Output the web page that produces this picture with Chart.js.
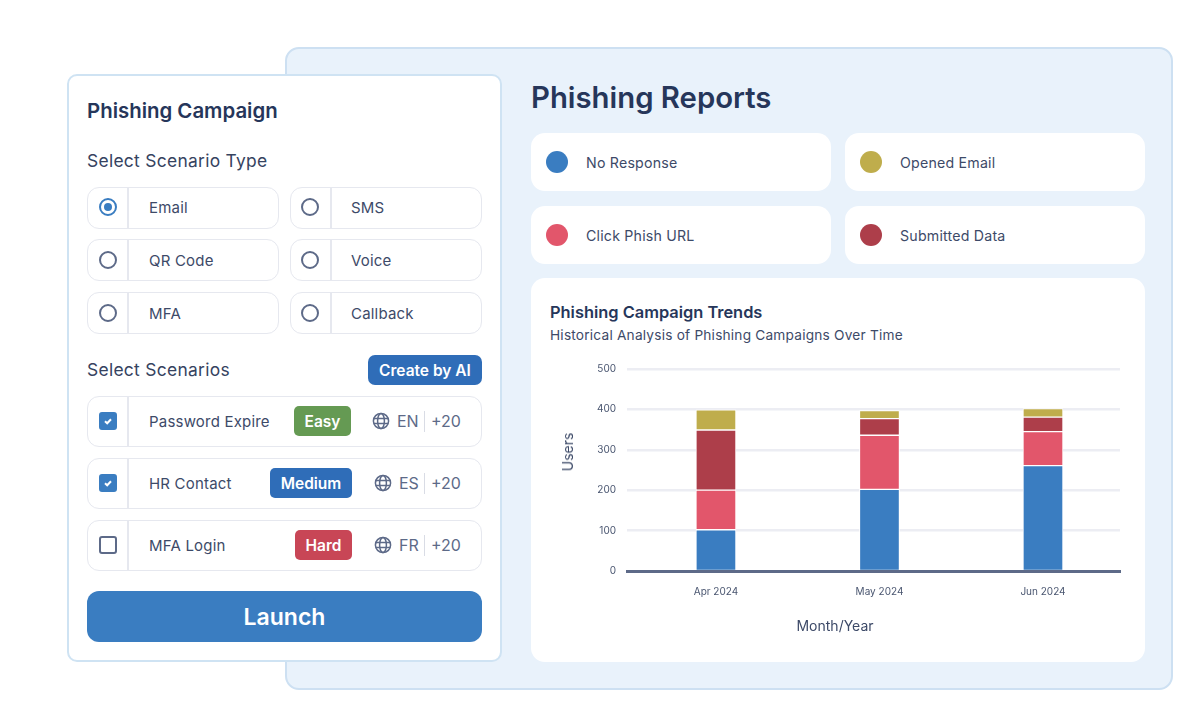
<!DOCTYPE html>
<html>
<head>
<meta charset="utf-8">
<title>Phishing Reports</title>
<script src="https://cdn.jsdelivr.net/npm/chart.js@4"></script>
<style>
  html, body { margin: 0; background: #fff; }
  body { width: 1200px; height: 709px; position: relative; overflow: hidden; font-family: Inter, "Noto Sans", sans-serif; color: #2b3a5a; }
  .box { position: absolute; box-sizing: border-box; }
  .t { position: absolute; white-space: nowrap; transform: translateY(-50%); line-height: 1; }
  .panel { left: 285px; top: 47px; width: 888px; height: 643px; background: #e9f2fb; border: 2px solid #cde0f2; border-radius: 14px; }
  .left { left: 67px; top: 74px; width: 435px; height: 588px; background: #fff; border: 2px solid #cfe3f3; border-radius: 10px; }
  .opt { background: #fff; border: 1.5px solid #e6e8ef; border-radius: 12px; }
  .div { position: absolute; width: 1.5px; background: #e6e8ef; }
  .radio { width: 18px; height: 18px; border: 2px solid #5d6a88; border-radius: 50%; background: #fff; }
  .radio.on { border-color: #3a7dc1; }
  .radio.on::after { content: ""; position: absolute; left: 3px; top: 3px; width: 8px; height: 8px; border-radius: 50%; background: #3a7dc1; }
  .check { width: 18px; height: 18px; border-radius: 3px; border: 2px solid #5d6a88; background: #fff; }
  .check.on { background: #3a7dc1; border-color: #3a7dc1; }
  .badge { color: #fff; border-radius: 5px; font-weight: 600; font-size: 15.5px; display: flex; align-items: center; justify-content: center; }
  .card { background: #fff; border-radius: 14px; }
  .dot { width: 22px; height: 22px; border-radius: 50%; }
  .lab { font-size: 15px; color: #3d4a68; letter-spacing: .2px; }
  .sub { font-size: 17.4px; color: #36435f; letter-spacing: .3px; }
  .lang { font-size: 16px; color: #5d6a88; }
  #chartBox { left: 550px; top: 352px; width: 580px; height: 288px; }
</style>
</head>
<body>
<div class="box panel"></div>
<div class="box left"></div>
<div class="t" style="left:87px;top:111px;font-size:20.4px;font-weight:600;color:#26365a">Phishing Campaign</div>
<div class="t sub" style="left:87px;top:161px">Select Scenario Type</div>
<div id="types"></div>
<div class="t sub" style="left:87px;top:370px">Select Scenarios</div>
<div class="box badge" style="left:368px;top:355px;width:114px;height:30px;background:#2f6db8;font-size:15.5px;border-radius:7px">Create by AI</div>
<div id="scenarios"></div>
<div class="box badge" style="left:87px;top:591px;width:395px;height:51px;background:#3a7dc1;font-size:23px;border-radius:12px">Launch</div>

<div class="t" style="left:531px;top:98px;font-size:29.3px;font-weight:600;color:#26365a">Phishing Reports</div>
<div id="legendCards"></div>
<div class="box card" style="left:531px;top:278px;width:614px;height:384px"></div>
<div class="t" style="left:550px;top:312px;font-size:16.4px;font-weight:600;color:#26365a">Phishing Campaign Trends</div>
<div class="t lab" style="left:550px;top:336px;font-size:13.7px">Historical Analysis of Phishing Campaigns Over Time</div>
<div class="box" id="chartBox"><canvas id="chart"></canvas></div>
<div class="t" style="left:835px;top:626px;font-size:14px;color:#3d4a68;transform:translate(-50%,-50%)">Month/Year</div>
<div class="t" style="left:568px;top:452px;font-size:14px;color:#3d4a68;transform:translate(-50%,-50%) rotate(-90deg)">Users</div>

<script>
  const months = ["Apr 2024", "May 2024", "Jun 2024"];
  const noResponse = [102, 202, 261];
  const clickPhish = [98, 134, 84];
  const submitted = [149, 41, 36];
  const opened = [50, 20, 21];
  const yTicks = [0, 100, 200, 300, 400, 500];

  const scenarioTypes = ["Email", "SMS", "QR Code", "Voice", "MFA", "Callback"];
  const scenarios = [
    { name: "Password Expire", level: "Easy", color: "#659a53", left: 294, width: 57, lang: "EN", on: true },
    { name: "HR Contact", level: "Medium", color: "#2f6db8", left: 270, width: 82, lang: "ES", on: true },
    { name: "MFA Login", level: "Hard", color: "#c84656", left: 295, width: 57, lang: "FR", on: false },
  ];

  const BLUE = "#3a7dc1", PINK = "#e2566b", DARK = "#ad3e4a", GOLD = "#bfad4c";
  const legendItems = [
    ["No Response", BLUE], ["Opened Email", GOLD],
    ["Click Phish URL", PINK], ["Submitted Data", DARK],
  ];

  const GLOBE = (x, y) => `<svg style="position:absolute;left:${x}px;top:${y}px" width="18" height="18" viewBox="0 0 18 18" fill="none" stroke="#5d6a88" stroke-width="1.5"><circle cx="9" cy="9" r="7.6"/><ellipse cx="9" cy="9" rx="3.4" ry="7.6"/><path d="M1.8 6.4h14.4M1.8 11.6h14.4"/></svg>`;
  const TICK = `<svg style="position:absolute;left:0;top:0" width="14" height="14" viewBox="0 0 14 14" fill="none" stroke="#fff" stroke-width="2"><path d="M4 7.2l2.2 2.1L10 5.2"/></svg>`;

  let html = "";
  scenarioTypes.forEach((name, i) => {
    const col = i % 2, row = Math.floor(i / 2);
    const x = col ? 290 : 87, y = [187, 239, 292][row], mid = [207, 260, 313][row];
    html += `<div class="box opt" style="left:${x}px;top:${y}px;width:192px;height:42px"></div>`;
    html += `<div class="div" style="left:${x + 40}px;top:${y}px;height:42px"></div>`;
    html += `<div class="box radio${i === 0 ? " on" : ""}" style="left:${col ? x + 11 : x + 12}px;top:${mid - 9}px"></div>`;
    html += `<div class="t lab" style="left:${col ? x + 61 : x + 62}px;top:${mid}px">${name}</div>`;
  });
  document.getElementById("types").innerHTML = html;

  html = "";
  scenarios.forEach((s, i) => {
    const y = 396 + i * 62;
    html += `<div class="box opt" style="left:87px;top:${y}px;width:395px;height:51px"></div>`;
    html += `<div class="div" style="left:127px;top:${y}px;height:51px"></div>`;
    html += `<div class="box check${s.on ? " on" : ""}" style="left:99px;top:${y + 16}px">${s.on ? TICK : ""}</div>`;
    html += `<div class="t lab" style="left:149px;top:${y + 25}px">${s.name}</div>`;
    html += `<div class="box badge" style="left:${s.left}px;top:${y + 10}px;width:${s.width}px;height:30px;background:${s.color}">${s.level}</div>`;
    html += GLOBE(i === 0 ? 372 : 374, y + 16);
    html += `<div class="t lang" style="left:${i === 0 ? 397 : 399}px;top:${y + 25}px">${s.lang}</div>`;
    html += `<div class="div" style="left:424px;top:${y + 15}px;height:21px;width:1px;background:#d9dce5"></div>`;
    html += `<div class="t lang" style="left:431px;top:${y + 25}px">+20</div>`;
  });
  document.getElementById("scenarios").innerHTML = html;

  html = "";
  legendItems.forEach(([name, color], i) => {
    const x = i % 2 ? 845 : 531, y = i < 2 ? 133 : 206;
    html += `<div class="box card" style="left:${x}px;top:${y}px;width:300px;height:58px"></div>`;
    html += `<div class="box dot" style="left:${x + 15}px;top:${y + 18}px;background:${color}"></div>`;
    html += `<div class="t lab" style="left:${x + 55}px;top:${y + 30}px;font-size:14.2px">${name}</div>`;
  });
  document.getElementById("legendCards").innerHTML = html;

  function series(label, values, color, bottom) {
    return {
      label,
      data: values.map((y, i) => ({ x: i, y })),
      backgroundColor: color,
      borderColor: "#fff",
      // 1px on each side of a join, so the white gap straddles the real boundary
      borderWidth: { top: 1, left: 1, right: 1, bottom },
      borderSkipped: false,
      barThickness: 40,
    };
  }

  new Chart(document.getElementById("chart"), {
    type: "bar",
    data: {
      datasets: [
        series("No Response", noResponse, BLUE, 0),
        series("Click Phish URL", clickPhish, PINK, 1),
        series("Submitted Data", submitted, DARK, 1),
        series("Opened Email", opened, GOLD, 1),
      ],
    },
    options: {
      responsive: true,
      maintainAspectRatio: false,
      animation: false,
      layout: { padding: { top: 10, right: 10 } },
      plugins: { legend: { display: false } },
      scales: {
        x: {
          type: "linear",
          stacked: true,
          // the bars sit a little right of the middle of each slot in the original
          offset: false,
          bounds: "data",
          min: -0.544,
          max: 2.471,
          afterBuildTicks: (axis) => { axis.ticks = months.map((_, i) => ({ value: i })); },
          afterFit: (axis) => { axis.height = 69; },
          grid: { display: false },
          border: { color: "#5d6a88", width: 3 },
          ticks: {
            callback: (v) => months[v],
            color: "#4a5670",
            padding: 7,
            maxRotation: 0,
            font: { family: "Inter", size: 10 },
          },
        },
        y: {
          stacked: true,
          min: yTicks[0],
          max: yTicks[yTicks.length - 1],
          afterFit: (axis) => { axis.width = 77; },
          grid: { color: "#ecedf3", lineWidth: 2.5, drawTicks: false },
          border: { display: false },
          ticks: {
            stepSize: 100,
            color: "#4a5670",
            padding: 11,
            font: { family: "Inter", size: 10 },
          },
        },
      },
    },
  });
</script>
</body>
</html>
